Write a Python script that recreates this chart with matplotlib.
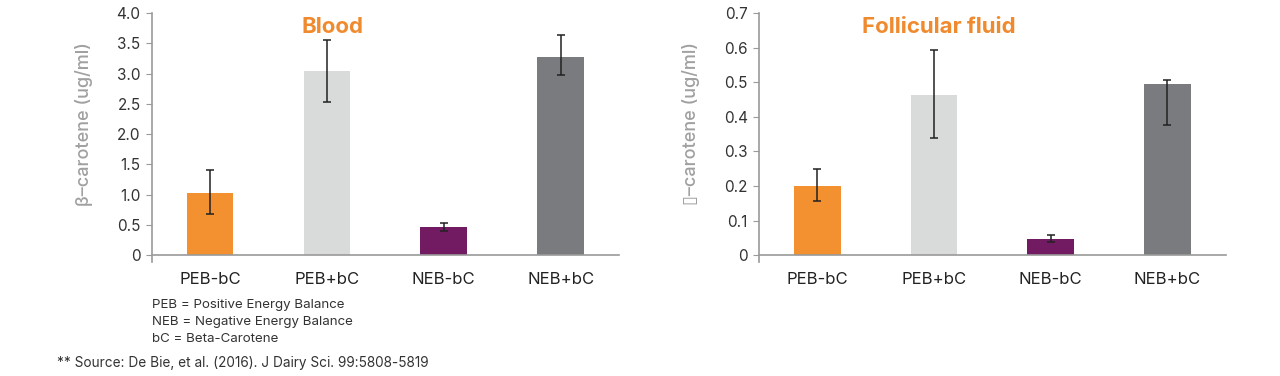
import matplotlib
matplotlib.use("Agg")
import matplotlib.pyplot as plt
import numpy as np

categories = ["PEB-bC", "PEB+bC", "NEB-bC", "NEB+bC"]
bar_colors = ["#F39130", "#D9DADA", "#731B62", "#7A7B7F"]

blood_mean = [1.02, 3.04, 0.46, 3.28]
blood_low = [0.68, 2.53, 0.40, 2.98]
blood_high = [1.40, 3.56, 0.54, 3.63]

ff_mean = [0.201, 0.463, 0.047, 0.494]
ff_low = [0.158, 0.339, 0.037, 0.375]
ff_high = [0.250, 0.594, 0.059, 0.507]

blood_ticks = [0, 0.5, 1.0, 1.5, 2.0, 2.5, 3.0, 3.5, 4.0]
blood_ticklabels = ["0", "0.5", "1.0", "1.5", "2.0", "2.5", "3.0", "3.5", "4.0"]
ff_ticks = [0, 0.1, 0.2, 0.3, 0.4, 0.5, 0.6, 0.7]
ff_ticklabels = ["0", "0.1", "0.2", "0.3", "0.4", "0.5", "0.6", "0.7"]

plt.rcParams['font.family'] = ['Inter', 'DejaVu Sans']

fig = plt.figure(figsize=(12.8, 3.76), dpi=100)

def panel(rect, mean, low, high, ticks, ticklabels, ymax, ext, title, ylabel):
    ax = fig.add_axes(rect)
    x = np.arange(len(categories))
    m = np.array(mean)
    yerr = [m - np.array(low), np.array(high) - m]
    ax.bar(x, m, width=0.4, color=bar_colors, zorder=2)
    ax.errorbar(x, m, yerr=yerr, fmt='none', ecolor='#222222', elinewidth=1.1,
                capsize=3, capthick=1.1, zorder=3)
    ax.set_xlim(-0.5, 3.5)
    ax.set_ylim(-ext, ymax)
    ax.spines['top'].set_visible(False)
    ax.spines['right'].set_visible(False)
    ax.spines['bottom'].set_position(('data', 0))
    for s in ('left', 'bottom'):
        ax.spines[s].set_color('#9a9a9a')
        ax.spines[s].set_linewidth(1.2)
    ax.set_yticks(ticks)
    ax.set_yticklabels(ticklabels, fontsize=11, color='#333333')
    ax.set_xticks(x)
    ax.set_xticklabels(categories, fontsize=12, color='#222222')
    ax.tick_params(axis='y', length=4, color='#9a9a9a', pad=4)
    ax.tick_params(axis='x', length=0, pad=12)
    ax.set_ylabel(ylabel, fontsize=13, color='#a0a0a0', fontweight='medium', labelpad=17)
    ax.yaxis.label.set_y(0.554)
    ax.text(0.386, 0.921, title, transform=ax.transAxes, ha='center', va='baseline',
            fontsize=16, fontweight='bold', color='#F08A2E')
    ax.set_facecolor('none')
    return ax

bottom = 1 - 261.7 / 376
height = (261.7 - 13.0) / 376
panel([151.7 / 1280, bottom, 467.3 / 1280, height], blood_mean, blood_low, blood_high,
      blood_ticks, blood_ticklabels, 4.0, 0.106, "Blood", "β–carotene (ug/ml)")
panel([759 / 1280, bottom, 466.7 / 1280, height], ff_mean, ff_low, ff_high,
      ff_ticks, ff_ticklabels, 0.7, 0.0185, "Follicular fluid", "▯–carotene (ug/ml)")

notes = ["PEB = Positive Energy Balance", "NEB = Negative Energy Balance", "bC = Beta-Carotene"]
for i, n in enumerate(notes):
    fig.text(152 / 1280, 1 - (305 + 17 * i) / 376, n, fontsize=9.6, color='#333333',
             ha='left', va='center')
fig.text(57 / 1280, 1 - 363 / 376, "** Source: De Bie, et al. (2016). J Dairy Sci. 99:5808-5819",
         fontsize=9.8, color='#333333', ha='left', va='center')

fig.savefig("out.png", dpi=100)
